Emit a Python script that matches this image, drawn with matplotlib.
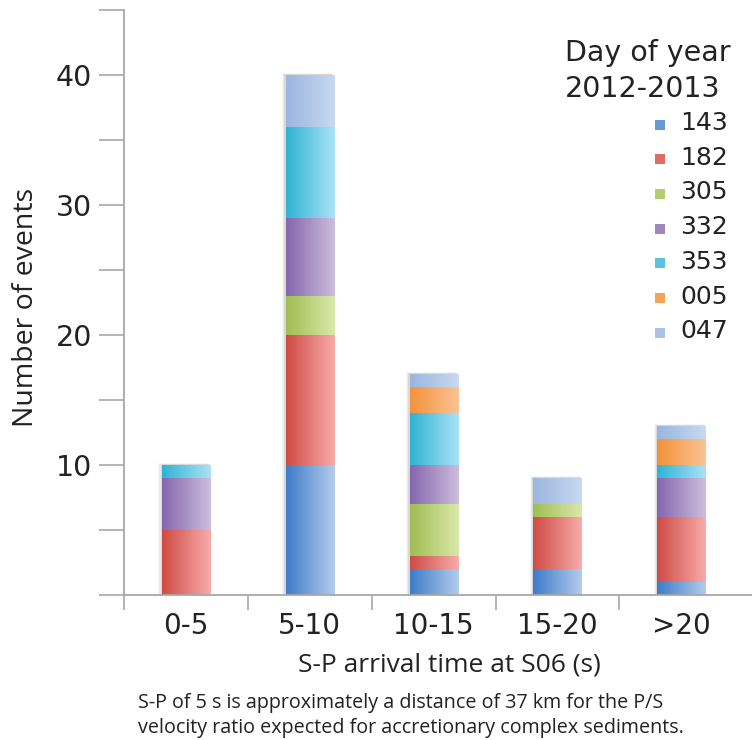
import numpy as np
import matplotlib
matplotlib.use("Agg")
import matplotlib.pyplot as plt
from matplotlib.colors import LinearSegmentedColormap
from matplotlib.patches import Rectangle

# S-P arrival time bins and event counts per day of year
categories = ["0-5", "5-10", "10-15", "15-20", ">20"]
days = ["143", "182", "305", "332", "353", "005", "047"]
counts_143 = [0, 10, 2, 2, 1]
counts_182 = [5, 10, 1, 4, 5]
counts_305 = [0, 3, 4, 1, 0]
counts_332 = [4, 6, 3, 0, 3]
counts_353 = [1, 7, 4, 0, 1]
counts_005 = [0, 0, 2, 0, 2]
counts_047 = [0, 4, 1, 2, 1]
series = [counts_143, counts_182, counts_305, counts_332,
          counts_353, counts_005, counts_047]

# left (saturated) -> right (light) gradient colors
grad_colors = [
    ("#3D7CC9", "#B3CBEB"),
    ("#CF4C45", "#F8ABA9"),
    ("#A0BE52", "#D9E8AA"),
    ("#8467AD", "#CDBDDD"),
    ("#2FB4D4", "#A9E2F7"),
    ("#F4923A", "#FBC394"),
    ("#9BB6DF", "#C8D9F1"),
]

W, H = 752, 740
fig = plt.figure(figsize=(W / 100, H / 100), dpi=100)
ax = fig.add_axes([124 / W, 1 - 595 / H, 1 - 124 / W, 585 / H])

x = np.arange(len(categories))
width = 0.39
gradient = np.linspace(0, 1, 64).reshape(1, -1)

totals = np.sum(series, axis=0)
# soft shadow behind each stack
for xi, tot in zip(x, totals):
    for k, a in enumerate([0.07, 0.05, 0.03]):
        d = 0.01 * (k + 1)
        ax.add_patch(Rectangle((xi - width / 2 - d, 0), width + d * 0.6,
                               tot + d * 4, facecolor="black", alpha=a,
                               linewidth=0, zorder=1))

bottom = np.zeros(len(categories))
for vals, (c0, c1) in zip(series, grad_colors):
    cmap = LinearSegmentedColormap.from_list("g", [c0, c1])
    for xi, b, v in zip(x, bottom, vals):
        if v == 0:
            continue
        ax.imshow(gradient, cmap=cmap, aspect="auto", zorder=2,
                  extent=(xi - width / 2, xi + width / 2, b, b + v),
                  interpolation="bilinear")
    bottom += np.array(vals)

ax.set_xlim(-0.5, 4.57)
ax.set_ylim(0, 45)

for s in ["top", "right"]:
    ax.spines[s].set_visible(False)
for s in ["left", "bottom"]:
    ax.spines[s].set_color("#A8A8A8")
    ax.spines[s].set_linewidth(1.3)

yt = np.arange(0, 46, 5)
ax.set_yticks(yt)
ax.set_yticklabels([str(v) if v in (10, 20, 30, 40) else "" for v in yt],
                   fontsize=20.5, color="#222222")
ax.tick_params(axis="y", direction="out", length=18, width=1.2,
               color="#A8A8A8", pad=5)

ax.set_xticks(np.arange(-0.5, 4.0, 1.0))
ax.set_xticklabels([])
ax.set_xticks(x, minor=True)
ax.set_xticklabels(categories, minor=True, fontsize=20, color="#222222")
ax.tick_params(axis="x", which="major", direction="out", length=11,
               width=1.2, color="#A8A8A8")
ax.tick_params(axis="x", which="minor", length=0, pad=12)

ax.set_xlabel("S-P arrival time at S06 (s)", fontsize=19, family="Open Sans",
              color="#222222", va="baseline")
ax.xaxis.set_label_coords((449 - 124) / 628, (595 - 672) / 585)
fig.text(26 / W, 1 - 307 / H, "Number of events", rotation=90,
         fontsize=20.5, family="Open Sans", color="#222222",
         ha="center", va="center")

fig.text(138 / W, 1 - 708 / H,
         "S-P of 5 s is approximately a distance of 37 km for the P/S",
         fontsize=14.2, family="Open Sans", color="#222222", va="baseline")
fig.text(138 / W, 1 - 733 / H,
         "velocity ratio expected for accretionary complex sediments.",
         fontsize=14.2, family="Open Sans", color="#222222", va="baseline")

# legend
fig.text(565 / W, 1 - 61 / H, "Day of year", fontsize=20.5,
         color="#222222", va="baseline")
fig.text(565 / W, 1 - 97 / H, "2012-2013", fontsize=20.5,
         color="#222222", va="baseline")
for i, (d, (c0, c1)) in enumerate(zip(days, grad_colors)):
    base = 130 + 34.7 * i
    mid = LinearSegmentedColormap.from_list("m", [c0, c1])(0.35)
    fig.patches.append(Rectangle((655 / W, 1 - (base - 0.5) / H), 10 / W, 10 / H,
                                 transform=fig.transFigure, facecolor=mid,
                                 linewidth=0))
    fig.text(680 / W, 1 - base / H, d, fontsize=18, color="#222222",
             va="baseline")

fig.savefig("out.png", dpi=100)
